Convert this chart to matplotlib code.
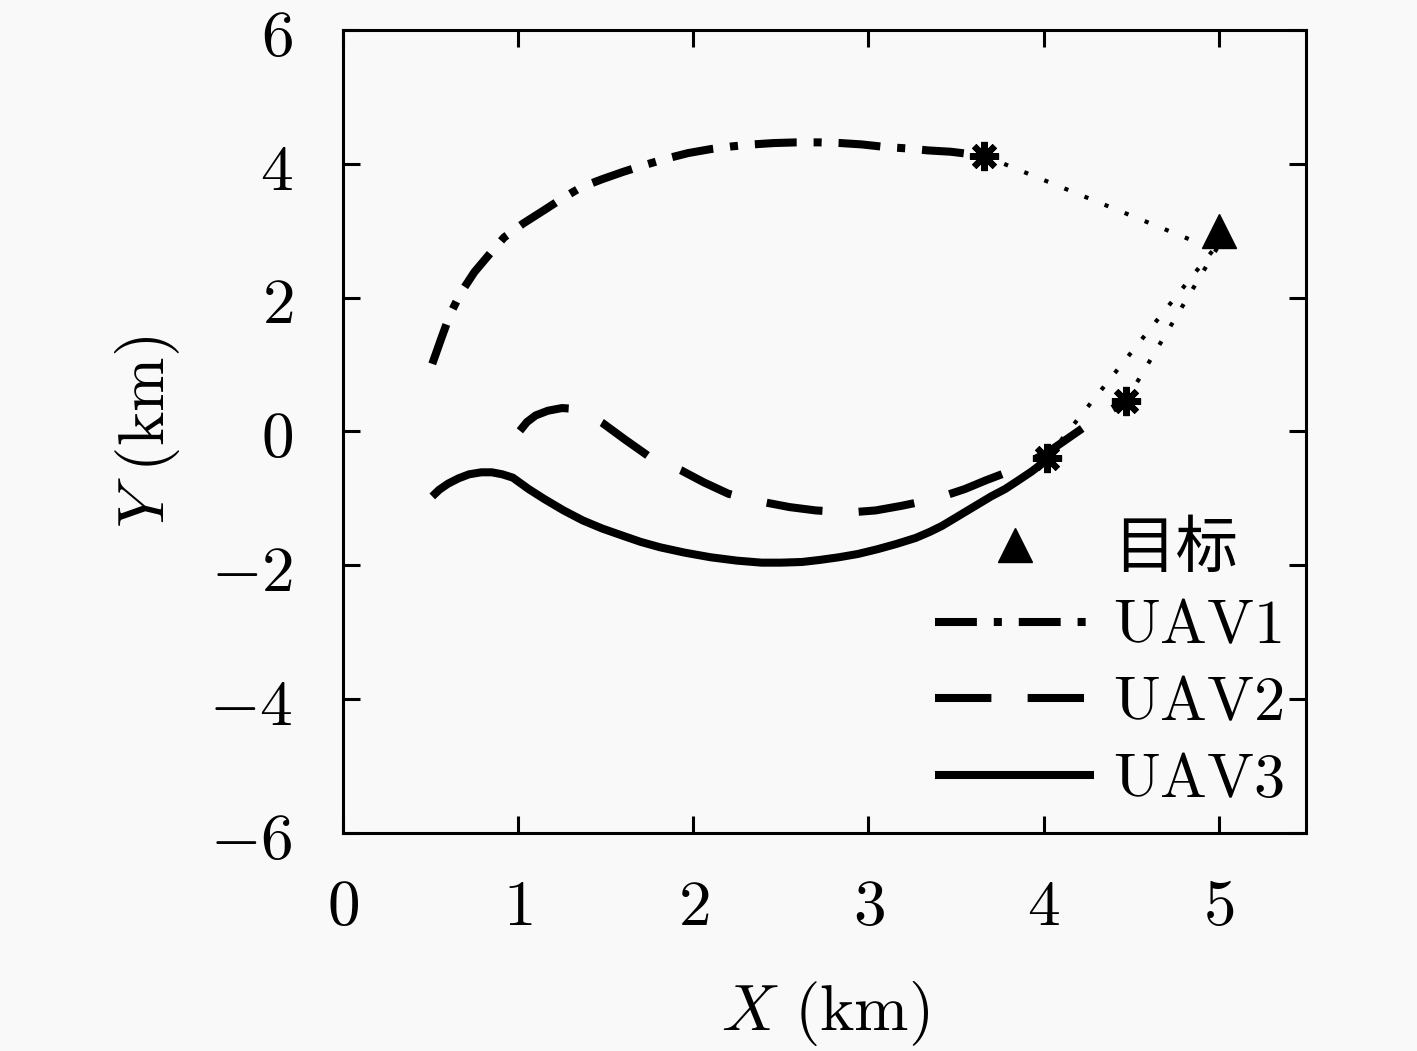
import matplotlib
matplotlib.use('Agg')
import matplotlib.pyplot as plt
from matplotlib.ticker import FuncFormatter

plt.rcParams['mathtext.fontset'] = 'cm'
plt.rcParams['font.family'] = ['Noto Sans CJK SC', 'DejaVu Sans']

# trajectories (km)
uav1_x = [0.51, 0.56, 0.61, 0.67, 0.75, 0.84, 0.92, 1.03, 1.15, 1.25, 1.36, 1.48, 1.60, 1.72, 1.85, 1.97,
          2.10, 2.22, 2.34, 2.46, 2.59, 2.72, 2.84, 2.96, 3.10, 3.22, 3.34, 3.47, 3.66]
uav1_y = [1.01, 1.38, 1.74, 2.06, 2.38, 2.66, 2.90, 3.11, 3.31, 3.48, 3.65, 3.77, 3.88, 3.98, 4.08, 4.16,
          4.22, 4.26, 4.29, 4.31, 4.32, 4.32, 4.31, 4.29, 4.25, 4.23, 4.20, 4.18, 4.12]

uav2_x = [1.01, 1.05, 1.10, 1.17, 1.25, 1.31, 1.40, 1.48, 1.61, 1.74, 1.84, 1.93, 2.06, 2.20,
          2.30, 2.41, 2.55, 2.70, 2.89, 3.04, 3.19, 3.30, 3.40, 3.55, 3.67, 3.86, 4.03, 4.14, 4.30, 4.47]
uav2_y = [0.01, 0.14, 0.24, 0.31, 0.35, 0.34, 0.25, 0.13, -0.12, -0.36, -0.48, -0.58, -0.76, -0.93,
          -1.00, -1.06, -1.13, -1.18, -1.21, -1.18, -1.11, -1.05, -0.99, -0.86, -0.73, -0.54, -0.30, -0.10, 0.19, 0.46]

uav3_x = [0.51, 0.55, 0.60, 0.66, 0.72, 0.79, 0.85, 0.91, 0.97, 1.06, 1.15, 1.26, 1.37, 1.48, 1.60,
          1.70, 1.81, 1.95, 2.10, 2.25, 2.39, 2.50, 2.62, 2.72, 2.83, 2.94, 3.05, 3.16, 3.27, 3.35,
          3.42, 3.49, 3.56, 3.63, 3.70, 3.78, 3.85, 3.93, 4.02]
uav3_y = [-0.97, -0.87, -0.78, -0.70, -0.64, -0.61, -0.61, -0.64, -0.69, -0.86, -1.01, -1.18, -1.33, -1.45, -1.56,
          -1.65, -1.73, -1.81, -1.88, -1.93, -1.96, -1.96, -1.95, -1.92, -1.88, -1.83, -1.76, -1.68, -1.59, -1.50,
          -1.41, -1.30, -1.19, -1.08, -0.97, -0.86, -0.74, -0.60, -0.42]

# current UAV positions (stars) and end of predicted (dotted) paths
star_x = [3.66, 4.47, 4.02]
star_y = [4.12, 0.46, -0.39]
aim_x = [4.89, 4.99, 4.97]
aim_y = [2.81, 2.74, 2.72]

target_x = [5.0]
target_y = [3.0]

xticks = [0, 1, 2, 3, 4, 5]
yticks = [-6, -4, -2, 0, 2, 4, 6]

fs = 47
fig = plt.figure(figsize=(14.17, 10.51), dpi=100, facecolor='#f9f9f9')
ax = fig.add_axes([0.242, 0.2074, 0.680, 0.7641])
ax.set_facecolor('#f9f9f9')

lw = 5.8
l1, = ax.plot(uav1_x, uav1_y, color='k', lw=lw, dashes=(5.2, 2.1, 1.0, 2.1), label=r'$\mathrm{UAV1}$')
l2, = ax.plot(uav2_x, uav2_y, color='k', lw=lw, dashes=(7.0, 4.5), label=r'$\mathrm{UAV2}$')
l3, = ax.plot(uav3_x, uav3_y, color='k', lw=lw, solid_capstyle='butt', label=r'$\mathrm{UAV3}$')

for sx, sy, ex, ey in zip(star_x, star_y, aim_x, aim_y):
    ax.plot([sx, ex], [sy, ey], color='k', lw=3.0, dashes=(1, 4.2))

ax.plot(star_x, star_y, linestyle='none', marker=(8, 2, 0), ms=21, mew=4.5, color='k')
tgt, = ax.plot(target_x, target_y, linestyle='none', marker='^', ms=25, color='k', label='目标')

ax.set_xlim(0, 5.5)
ax.set_ylim(-6, 6)
ax.set_xticks(xticks)
ax.set_yticks(yticks)
ax.xaxis.set_major_formatter(FuncFormatter(lambda v, p: '$%d$' % v))
ax.yaxis.set_major_formatter(FuncFormatter(lambda v, p: '$%d$' % v))
ax.tick_params(direction='in', length=12, width=2.2, top=True, right=True, labelsize=fs)
ax.tick_params(axis='x', pad=29)
ax.tick_params(axis='y', pad=36)
for s in ax.spines.values():
    s.set_linewidth(2.2)

ax.set_xlabel(r'$X\ \mathrm{(km)}$', fontsize=fs, labelpad=28)
ax.set_ylabel(r'$Y\ \mathrm{(km)}$', fontsize=fs, labelpad=20)

leg = ax.legend(handles=[tgt, l1, l2, l3], loc='upper left',
                bbox_to_anchor=(935 / 1417, 1 - 517 / 1051), bbox_transform=fig.transFigure,
                frameon=False, fontsize=45, handlelength=2.55, handletextpad=0.3,
                labelspacing=0.2, borderpad=0, borderaxespad=0, numpoints=1)

fig.savefig('out.png', dpi=100, facecolor=fig.get_facecolor())
